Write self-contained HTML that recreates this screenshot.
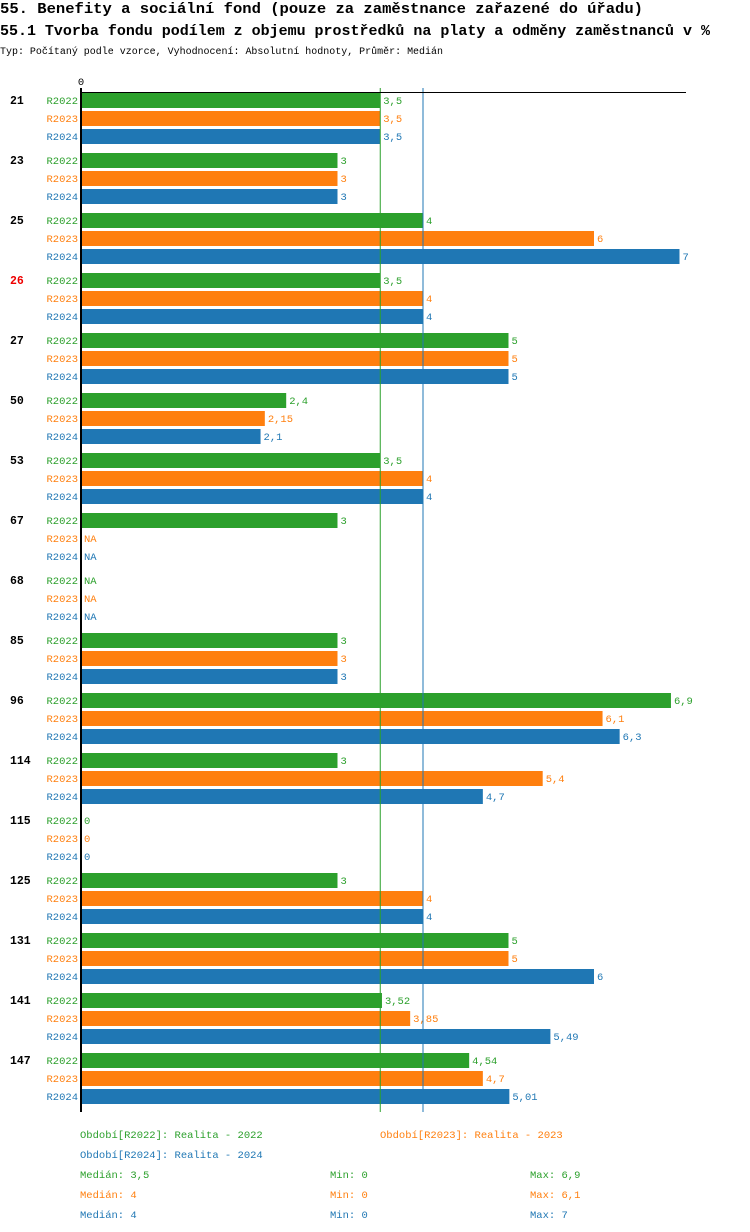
<!DOCTYPE html>
<html><head><meta charset="utf-8">
<style>
body{margin:0;background:#fff;width:750px;height:1232px;overflow:hidden}
svg{display:block}
text{font-family:"Liberation Mono",monospace}
</style></head>
<body>
<svg id="chart" width="750" height="1232" xmlns="http://www.w3.org/2000/svg">
<text x="0" y="13" font-size="14.5" font-weight="bold" fill="#000" textLength="643" lengthAdjust="spacingAndGlyphs">55. Benefity a sociální fond (pouze za zaměstnance zařazené do úřadu)</text>
<text x="0" y="35" font-size="14.5" font-weight="bold" fill="#000" textLength="710" lengthAdjust="spacingAndGlyphs">55.1 Tvorba fondu podílem z objemu prostředků na platy a odměny zaměstnanců v %</text>
<text x="0" y="54" font-size="10" fill="#000" textLength="443" lengthAdjust="spacingAndGlyphs">Typ: Počítaný podle vzorce, Vyhodnocení: Absolutní hodnoty, Průměr: Medián</text>
<g id="plot"></g>
<g id="legend"></g>
</svg>
<script>
const categories=["21","23","25","26","27","50","53","67","68","85","96","114","115","125","131","141","147"];
const highlighted=["26"];
const seriesNames=["R2022","R2023","R2024"];
const r2022=[3.5,3,4,3.5,5,2.4,3.5,3,null,3,6.9,3,0,3,5,3.52,4.54];
const r2023=[3.5,3,6,4,5,2.15,4,null,null,3,6.1,5.4,0,4,5,3.85,4.7];
const r2024=[3.5,3,7,4,5,2.1,4,null,null,3,6.3,4.7,0,4,6,5.49,5.01];
const medians=[3.5,4,4];
const mins=[0,0,0];
const maxs=[6.9,6.1,7];
const colors=["#2ca02c","#ff7f0e","#1f77b4"];
const NS="http://www.w3.org/2000/svg";
const plot=document.getElementById('plot');
const x0=81, scale=85.5, top0=93, groupH=60, rowH=18, barH=15;
const xs=v=>x0+v*scale;
function mk(t,a,p){const e=document.createElementNS(NS,t);for(const k in a)e.setAttribute(k,a[k]);(p||plot).appendChild(e);return e;}
const fmt=v=>String(v).replace('.',',');
const series=[r2022,r2023,r2024];
const bottom=1112;
categories.forEach((c,i)=>{
  const gy=top0+i*groupH;
  const gl=mk('text',{x:10,y:gy+11,'font-size':11.5,'font-weight':'bold',fill:highlighted.includes(c)?'#e00':'#000'});
  
  
  gl.textContent=c;
  series.forEach((s,j)=>{
    const y=gy+j*rowH, v=s[i];
    const sl=mk('text',{x:78,y:y+11,'font-size':10.5,fill:colors[j],'text-anchor':'end'});
    
    
    sl.textContent=seriesNames[j];
    if(v!==null&&v>0){
      const r=mk('rect',{x:x0,y:y,width:xs(v)-x0,height:barH,fill:colors[j]});
      
      
    }
    const vl=mk('text',{x:(v===null?x0:xs(v))+3,y:y+11,'font-size':10.5,fill:colors[j]});
    
    
    vl.textContent=v===null?'NA':fmt(v);
  });
});
[2,0].forEach(j=>{
  const l=mk('line',{x1:xs(medians[j]),x2:xs(medians[j]),y1:88,y2:bottom,stroke:colors[j],'stroke-width':1});
  
  
});
const ax=mk('line',{x1:80,x2:686,y1:92.5,y2:92.5,stroke:'#000','stroke-width':1});


const ay=mk('line',{x1:81,x2:81,y1:88,y2:bottom,stroke:'#000','stroke-width':2});


const t0=mk('text',{x:81,y:85,'font-size':10.5,fill:'#000','text-anchor':'middle'});


t0.textContent='0';
const lg=document.getElementById('legend');
const legendItems=[["Období[R2022]: Realita - 2022",80,1138,0],["Období[R2023]: Realita - 2023",380,1138,1],["Období[R2024]: Realita - 2024",80,1158,2]];
legendItems.forEach(it=>{
  const t=mk('text',{x:it[1],y:it[2],'font-size':10.5,fill:colors[it[3]]},lg);
  
  
  t.textContent=it[0];
});
seriesNames.forEach((n,j)=>{
  const y=1178+j*20;
  [["Medián: "+fmt(medians[j]),80],["Min: "+fmt(mins[j]),330],["Max: "+fmt(maxs[j]),530]].forEach(p=>{
    const t=mk('text',{x:p[1],y:y,'font-size':10.5,fill:colors[j]},lg);
    
    
    t.textContent=p[0];
  });
});
</script>
</body></html>
